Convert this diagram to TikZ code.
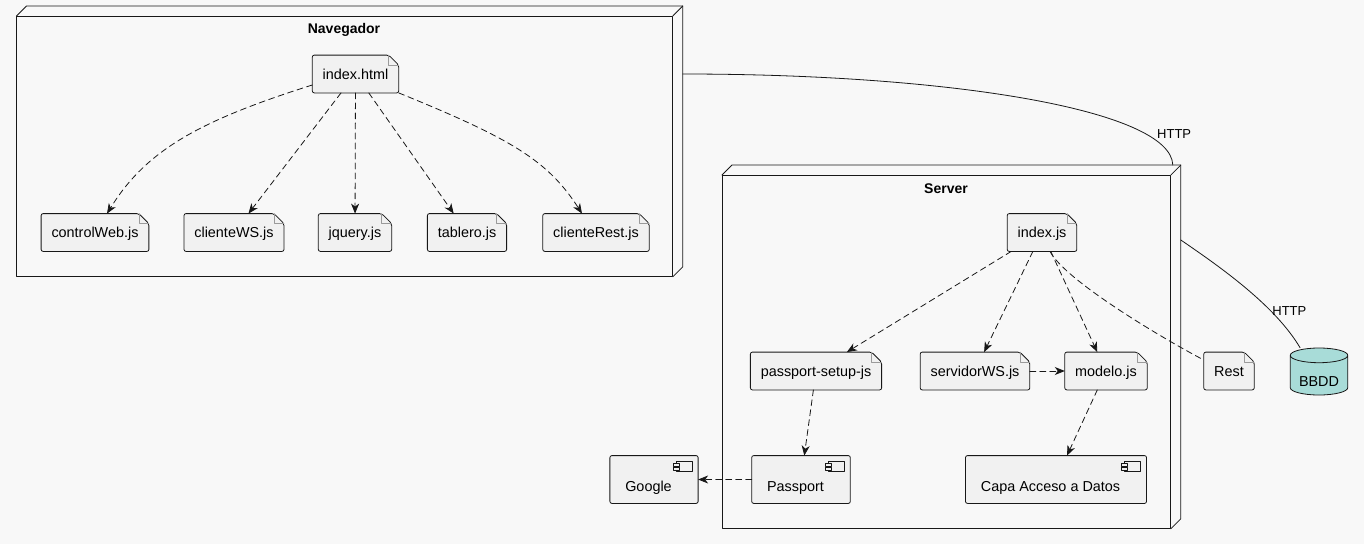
\documentclass[tikz,border=0pt]{standalone}
\usepackage{fontspec}
\setmainfont{Liberation Sans}
\usetikzlibrary{arrows.meta}
\usetikzlibrary{shapes.geometric}
\definecolor{bgcol}{HTML}{F8F8F8}
\definecolor{nodefill}{HTML}{F1F1F1}
\definecolor{edgecol}{HTML}{181818}
\definecolor{foldcol}{HTML}{9A9A9A}
\definecolor{dbfill}{HTML}{A8DCD8}

\begin{document}
\begin{tikzpicture}[line cap=round,line join=round,>={Stealth[length=10pt,width=8pt,inset=3pt]},x=1pt,y=-1pt,
  font=\fontsize{14.4}{16}\selectfont, line width=0.8pt,
  filebox/.style={minimum height=37pt, inner xsep=10pt, inner ysep=0pt, text height=10pt, text depth=0pt,
    append after command={\pgfextra{
      \filldraw[draw=edgecol, fill=nodefill, rounded corners=2pt] (\tikzlastnode.north west) -- ([xshift=-10pt]\tikzlastnode.north east) -- ([yshift=-10pt]\tikzlastnode.north east) -- (\tikzlastnode.south east) -- (\tikzlastnode.south west) -- cycle;
      \draw[foldcol, line width=0.6pt, sharp corners] ([xshift=-10pt]\tikzlastnode.north east) |- ([yshift=-10pt]\tikzlastnode.north east);
    }}},
  compbox/.style={minimum height=47pt, inner xsep=15pt, inner ysep=0pt, text height=23pt, text depth=0pt,
    execute at end node={\hspace*{11pt}},
    append after command={\pgfextra{
      \filldraw[draw=edgecol, fill=nodefill, rounded corners=2pt] (\tikzlastnode.north west) rectangle (\tikzlastnode.south east);
      \draw[edgecol, fill=nodefill, line width=0.6pt, sharp corners] ([xshift=-22pt,yshift=-6pt]\tikzlastnode.north east) rectangle ([xshift=-6pt,yshift=-16pt]\tikzlastnode.north east);
      \draw[edgecol, fill=nodefill, line width=0.6pt, sharp corners] ([xshift=-25pt,yshift=-8pt]\tikzlastnode.north east) rectangle ([xshift=-19pt,yshift=-10.5pt]\tikzlastnode.north east);
      \draw[edgecol, fill=nodefill, line width=0.6pt, sharp corners] ([xshift=-25pt,yshift=-12pt]\tikzlastnode.north east) rectangle ([xshift=-19pt,yshift=-14.5pt]\tikzlastnode.north east);
    }}},
  nodebox/.style={inner sep=0pt, anchor=north west,
    append after command={\pgfextra{
      \draw[edgecol, sharp corners] ([yshift=-10pt]\tikzlastnode.north west) rectangle ([xshift=-10pt]\tikzlastnode.south east);
      \draw[edgecol, sharp corners] ([yshift=-10pt]\tikzlastnode.north west) -- ([xshift=10pt]\tikzlastnode.north west) -- (\tikzlastnode.north east) -- ([yshift=10pt]\tikzlastnode.south east) -- ([xshift=-10pt]\tikzlastnode.south east);
      \draw[edgecol] ([xshift=-10pt,yshift=-10pt]\tikzlastnode.north east) -- (\tikzlastnode.north east);
    }}},
  boxtitle/.style={font=\fontsize{14}{16}\selectfont\bfseries},
  dbshape/.style={cylinder, shape border rotate=90, aspect=0.35, draw=edgecol, fill=dbfill, minimum width=57.5pt, minimum height=47pt, inner sep=1pt, text height=20pt, text depth=0pt, anchor=shape center},
  dep/.style={draw=edgecol, dash pattern=on 6pt off 4pt},
  link/.style={draw=edgecol},
  linklabel/.style={inner sep=1pt, font=\fontsize{13}{15}\selectfont}]
\fill[bgcol] (0,0) rectangle (1364,544);
\useasboundingbox (0,0) rectangle (1364,544);

% Navegador
\node[nodebox, minimum width=665.5pt, minimum height=270pt] (nav) at (16.5,6) {};
\node[boxtitle] (navtitle) at (344,30) {Navegador};
\node[filebox] (idxhtml) at (355.5,74) {index.html};
\node[filebox] (ctrlweb) at (95,232.5) {controlWeb.js};
\node[filebox] (cliws) at (234,232.5) {clienteWS.js};
\node[filebox] (jquery) at (355,232.5) {jquery.js};
\node[filebox] (tablero) at (467,232.5) {tablero.js};
\node[filebox] (clirest) at (596,232.5) {clienteRest.js};

% Server
\node[nodebox, minimum width=458pt, minimum height=363pt] (srv) at (722,165) {};
\node[boxtitle] (srvtitle) at (946,189) {Server};
\node[filebox] (idxjs) at (1042,232.5) {index.js};
\node[filebox] (ppsetup) at (816,371) {passport-setup-js};
\node[filebox] (srvws) at (975,371) {servidorWS.js};
\node[filebox] (modelo) at (1106,371) {modelo.js};
\node[compbox] (passport) at (801,479.5) {Passport};
\node[compbox] (capa) at (1056,479.5) {Capa Acceso a Datos};

% fuera
\node[filebox] (rest) at (1229,371) {Rest};
\node[dbshape] (bbdd) at (1319,371.5) {BBDD};
\node[compbox] (google) at (654,479.5) {Google};

\draw[dep,->] ([yshift=-11pt]idxhtml.west) .. controls +(-114,36) and +(39,-63) .. ([xshift=12pt]ctrlweb.north);
\draw[dep,->] (idxhtml) -- (cliws);
\draw[dep,->] (idxhtml) -- (jquery);
\draw[dep,->] (idxhtml) -- (tablero);
\draw[dep,->] (idxhtml.south east) .. controls +(113,46) and +(-34,-53) .. ([xshift=-14pt]clirest.north);

\draw[dep,->] (idxjs) -- (ppsetup);
\draw[dep,->] (idxjs) -- (srvws);
\draw[dep,->] (idxjs) -- (modelo);
\draw[dep] ([xshift=8pt]idxjs.south) .. controls +(15,29) and +(-42,-22) .. ([yshift=11pt]rest.west);
\draw[dep,->] (srvws) -- (modelo);
\draw[dep,->] (ppsetup) -- (passport);
\draw[dep,->] (modelo) -- (capa);
\draw[dep,->] (passport) -- (google);

\draw[link] (nav.east |- idxhtml.center) .. controls +(268,0) and +(-2,-55) .. ([xshift=-8pt]srv.north east)
  node[linklabel, pos=0.84, anchor=south west] {HTTP};
\draw[link] ([yshift=-75pt]srv.north east) .. controls +(41,28) and +(-25,-42) .. ([xshift=-19pt]bbdd.north)
  node[linklabel, pos=0.7, anchor=west] {HTTP};
\end{tikzpicture}
\end{document}
